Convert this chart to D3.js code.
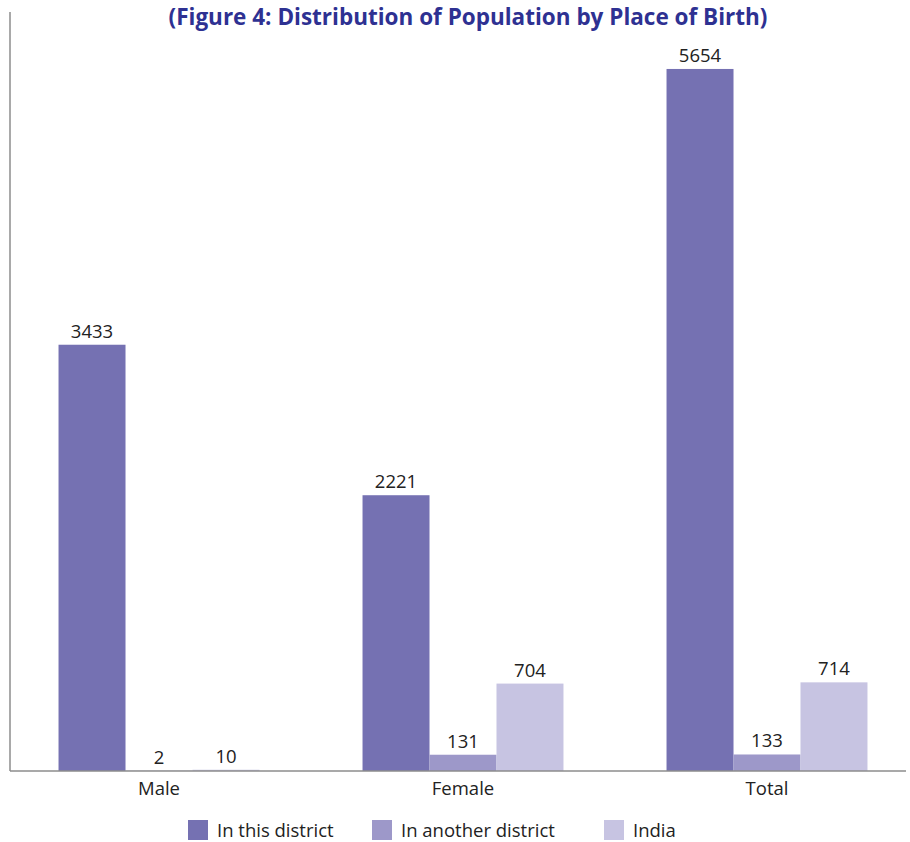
<!DOCTYPE html>
<html>
<head>
<meta charset="utf-8">
<script src="https://cdn.jsdelivr.net/npm/d3@7"></script>
<style>
  html, body { margin: 0; padding: 0; background: #ffffff; }
  svg { display: block; }
  text { font-family: "Open Sans", "Noto Sans", sans-serif; }
</style>
</head>
<body>
<svg id="chart" width="910" height="842"></svg>
<script>
// Population by place of birth
const categories = ["Male", "Female", "Total"];
const seriesNames = ["In this district", "In another district", "India"];
const inThisDistrict = [3433, 2221, 5654];
const inAnotherDistrict = [2, 131, 133];
const india = [10, 704, 714];
const seriesValues = [inThisDistrict, inAnotherDistrict, india];
const colors = ["#7571b2", "#9d98c9", "#c7c4e2"];

const svg = d3.select("#chart");
const baseY = 771;
const labelSize = 18.5;

const x0 = d3.scaleBand()
  .domain(categories)
  .range([7, 919])
  .paddingInner(0.339)
  .paddingOuter(0.1695);

const x1 = d3.scaleBand()
  .domain(seriesNames)
  .range([0, x0.bandwidth()]);

const y = d3.scaleLinear()
  .domain([0, 6000])
  .range([baseY, 26]);

// Title
svg.append("text")
  .attr("x", 468)
  .attr("y", 25)
  .attr("text-anchor", "middle")
  .attr("font-size", 22.5)
  .attr("font-weight", "bold")
  .attr("fill", "#2e3192")
  .text("(Figure 4: Distribution of Population by Place of Birth)");

// Bars and value labels
const groups = svg.selectAll("g.cat")
  .data(categories)
  .join("g")
  .attr("class", "cat")
  .attr("transform", d => `translate(${x0(d)},0)`);

groups.each(function(cat, ci) {
  const g = d3.select(this);
  const rows = seriesNames.map((s, si) => ({ s, si, v: seriesValues[si][ci] }));
  g.selectAll("rect")
    .data(rows)
    .join("rect")
    .attr("x", d => x1(d.s))
    .attr("width", x1.bandwidth())
    .attr("y", d => y(d.v))
    .attr("height", d => baseY - y(d.v))
    .attr("fill", d => colors[d.si]);
  g.selectAll("text.val")
    .data(rows)
    .join("text")
    .attr("class", "val")
    .attr("x", d => x1(d.s) + x1.bandwidth() / 2)
    .attr("y", d => y(d.v) - 7)
    .attr("text-anchor", "middle")
    .attr("font-size", labelSize)
    .attr("fill", "#222")
    .text(d => d.v);
});

// Axis lines
svg.append("line")
  .attr("x1", 10).attr("x2", 10)
  .attr("y1", 12).attr("y2", baseY)
  .attr("stroke", "#8c8c8c").attr("stroke-width", 1.5);

const xAxis = d3.axisBottom(x0).tickSize(0).tickPadding(11);
const xg = svg.append("g")
  .attr("transform", `translate(0,${baseY})`)
  .call(xAxis);
xg.select(".domain").remove();
xg.selectAll("text")
  .attr("font-size", labelSize)
  .attr("fill", "#222")
  .style("font-family", "'Open Sans', sans-serif");

svg.append("line")
  .attr("x1", 10).attr("x2", 906)
  .attr("y1", baseY).attr("y2", baseY)
  .attr("stroke", "#8c8c8c").attr("stroke-width", 1.5);

// Legend
const legendX = [188, 372, 604];
const legend = svg.selectAll("g.leg")
  .data(seriesNames)
  .join("g")
  .attr("class", "leg")
  .attr("transform", (d, i) => `translate(${legendX[i]},820)`);
legend.append("rect")
  .attr("width", 20).attr("height", 20)
  .attr("fill", (d, i) => colors[i]);
legend.append("text")
  .attr("x", 29).attr("y", 16.5)
  .attr("font-size", labelSize)
  .attr("fill", "#222")
  .text(d => d);
</script>
</body>
</html>
